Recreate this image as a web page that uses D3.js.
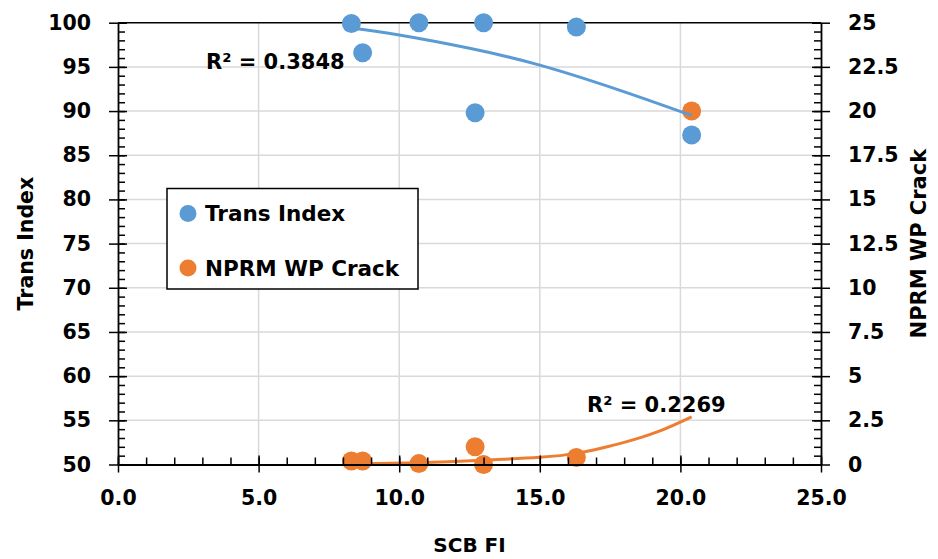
<!DOCTYPE html>
<html>
<head>
<meta charset="utf-8">
<script src="https://cdn.jsdelivr.net/npm/d3@7/dist/d3.min.js"></script>
<style>
  html, body { margin: 0; padding: 0; background: #fff; }
  svg text { font-family: "DejaVu Sans", sans-serif; font-weight: bold; fill: #000; }
</style>
</head>
<body>
<svg id="chart" width="938" height="559"></svg>
<script>
// ---- data ----
const scbFI      = [8.3, 8.7, 10.7, 12.7, 13.0, 16.3, 20.4];
const transIndex = [99.9, 96.6, 100.0, 89.8, 100.0, 99.5, 87.3];
const wpCrack    = [0.2, 0.2, 0.05, 1.0, 0.0, 0.4, 20.0];

// trendlines
const transTrendX = [8.3, 10.0, 12.5, 15.0, 17.8, 20.4];
const transTrendY = [99.4, 98.6, 97.1, 95.2, 92.4, 89.5];
const crackTrendX = [8.3, 10.7, 13.0, 15.0, 16.3, 17.2, 18.0, 19.2, 20.4];
const crackTrendY = [0.03, 0.1, 0.24, 0.41, 0.63, 0.93, 1.25, 1.86, 2.7];

const xTicks = [0, 5, 10, 15, 20, 25];
const yLeftTicks = [50, 55, 60, 65, 70, 75, 80, 85, 90, 95, 100];
const yRightTicks = [0, 2.5, 5, 7.5, 10, 12.5, 15, 17.5, 20, 22.5, 25];

const seriesNames = ["Trans Index", "NPRM WP Crack"];
const r2Labels = ["R\u00B2 = 0.3848", "R\u00B2 = 0.2269"];

const blue = "#5b9bd5", orange = "#ed7d31";

// ---- layout ----
const svg = d3.select("#chart");
const L = 118, R = 821, T = 22.7, B = 464.5;

const x = d3.scaleLinear().domain([0, 25]).range([L, R]);
const yL = d3.scaleLinear().domain([50, 100]).range([B, T]);
const yR = d3.scaleLinear().domain([0, 25]).range([B, T]);

// gridlines
const grid = svg.append("g");
grid.selectAll("line.v").data(xTicks.slice(1, -1)).enter().append("line")
  .attr("x1", d => x(d)).attr("x2", d => x(d)).attr("y1", T).attr("y2", B)
  .attr("stroke", "#d9d9d9").attr("stroke-width", 1.5);
grid.selectAll("line.h").data(yLeftTicks.slice(1, -1)).enter().append("line")
  .attr("y1", d => yL(d)).attr("y2", d => yL(d)).attr("x1", L).attr("x2", R)
  .attr("stroke", "#d9d9d9").attr("stroke-width", 1.5);

// top border
svg.append("line").attr("x1", L).attr("x2", R).attr("y1", T).attr("y2", T)
  .attr("stroke", "#000").attr("stroke-width", 1.5);

// points
const pts = scbFI.map((v, i) => ({x: v, t: transIndex[i], c: wpCrack[i]}));
svg.append("g").selectAll("circle").data(pts).enter().append("circle")
  .attr("cx", d => x(d.x)).attr("cy", d => yL(d.t)).attr("r", 9.5).attr("fill", blue);
svg.append("g").selectAll("circle").data(pts).enter().append("circle")
  .attr("cx", d => x(d.x)).attr("cy", d => yR(d.c)).attr("r", 9.5).attr("fill", orange);

// trendlines
const lineL = d3.line().x(d => x(d[0])).y(d => yL(d[1])).curve(d3.curveNatural);
const lineR = d3.line().x(d => x(d[0])).y(d => yR(d[1])).curve(d3.curveNatural);
svg.append("path").attr("d", lineL(d3.zip(transTrendX, transTrendY)))
  .attr("fill", "none").attr("stroke", blue).attr("stroke-width", 3);
svg.append("path").attr("d", lineR(d3.zip(crackTrendX, crackTrendY)))
  .attr("fill", "none").attr("stroke", orange).attr("stroke-width", 3);

// axes
function styleAxis(g) {
  g.select(".domain").attr("stroke", "#000").attr("stroke-width", 1.8);
  g.selectAll(".tick line").attr("stroke", "#000").attr("stroke-width", 1.5);
  g.selectAll("text").attr("font-size", "20.5px").attr("font-family", "DejaVu Sans").attr("font-weight", "bold");
}
// minor ticks
const xMinor = d3.range(0, 25.01, 1);
svg.append("g").attr("transform", `translate(0,${B})`)
  .call(d3.axisBottom(x).tickValues(xMinor).tickSize(-7).tickFormat(""))
  .call(g => { g.select(".domain").remove(); g.selectAll(".tick line").attr("stroke", "#000").attr("stroke-width", 1.5); });
svg.append("g").attr("transform", `translate(${L},0)`)
  .call(d3.axisLeft(yL).tickValues(d3.range(50, 100.01, 1)).tickSize(-7).tickFormat(""))
  .call(g => { g.select(".domain").remove(); g.selectAll(".tick line").attr("stroke", "#000").attr("stroke-width", 1.5); });
svg.append("g").attr("transform", `translate(${R},0)`)
  .call(d3.axisRight(yR).tickValues(d3.range(0, 25.01, 0.5)).tickSize(-7).tickFormat(""))
  .call(g => { g.select(".domain").remove(); g.selectAll(".tick line").attr("stroke", "#000").attr("stroke-width", 1.5); });

// major ticks (crossing)
const gx = svg.append("g").attr("transform", `translate(0,${B})`)
  .call(d3.axisBottom(x).tickValues(xTicks).tickSize(8).tickSizeOuter(0).tickPadding(18).tickFormat(d3.format(".1f")));
styleAxis(gx);
gx.selectAll(".tick line").attr("y1", -9);

const gl = svg.append("g").attr("transform", `translate(${L},0)`)
  .call(d3.axisLeft(yL).tickValues(yLeftTicks).tickSize(9).tickSizeOuter(0).tickPadding(18).tickFormat(d => String(d)));
styleAxis(gl);
gl.selectAll(".tick line").attr("x1", 9);
gl.selectAll(".tick text").attr("x", -27);

const gr = svg.append("g").attr("transform", `translate(${R},0)`)
  .call(d3.axisRight(yR).tickValues(yRightTicks).tickSize(9).tickSizeOuter(0).tickPadding(18).tickFormat(d => String(d)));
styleAxis(gr);
gr.selectAll(".tick line").attr("x1", -9);
gr.selectAll(".tick text").attr("x", 27);

// axis titles
svg.append("text").attr("x", x(12.5)).attr("y", 552).attr("text-anchor", "middle")
  .attr("font-size", "20px").text("SCB FI");
svg.append("text").attr("transform", `translate(33,${(T + B) / 2}) rotate(-90)`)
  .attr("text-anchor", "middle").attr("font-size", "20.5px").text("Trans Index");
svg.append("text").attr("transform", `translate(926,${(T + B) / 2}) rotate(-90)`)
  .attr("text-anchor", "middle").attr("font-size", "21px").text("NPRM WP Crack");

// R² labels
svg.append("text").attr("x", 206).attr("y", 69).attr("font-size", "21px").text(r2Labels[0]);
svg.append("text").attr("x", 587).attr("y", 412).attr("font-size", "21px").text(r2Labels[1]);

// legend
const leg = svg.append("g");
leg.append("rect").attr("x", 167).attr("y", 188.5).attr("width", 251).attr("height", 100.5)
  .attr("fill", "#fff").attr("stroke", "#000").attr("stroke-width", 1.5);
const legItems = leg.selectAll("g.item").data(seriesNames).enter().append("g")
  .attr("transform", (d, i) => `translate(188,${213.5 + i * 54.5})`);
legItems.append("circle").attr("r", 8.5).attr("fill", (d, i) => i === 0 ? blue : orange);
legItems.append("text").attr("x", 17).attr("y", 0).attr("dy", "0.36em")
  .attr("font-size", "21.5px").text(d => d);
</script>
</body>
</html>
